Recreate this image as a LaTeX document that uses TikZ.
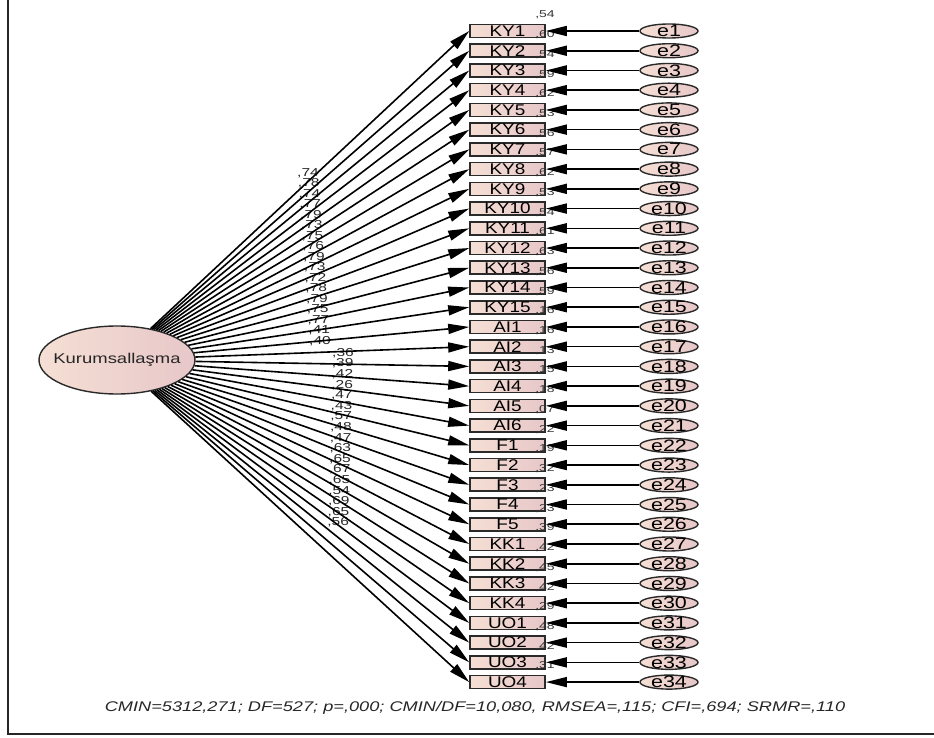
\documentclass[tikz,border=0pt]{standalone}
\usepackage{fontspec}
\setmainfont{Liberation Sans}
\newfontfamily\widefont[FakeStretch=1.3]{Liberation Sans}
\newfontfamily\boxfont[FakeStretch=1.22]{Liberation Sans}
\newfontfamily\loadfont[FakeStretch=1.35]{Liberation Sans}
\newfontfamily\widerfont[FakeStretch=1.4]{Liberation Sans}
\usetikzlibrary{arrows.meta,shapes.geometric}

\definecolor{fillL}{HTML}{F5DFD4}
\definecolor{fillR}{HTML}{E7C7C9}
\definecolor{edgegray}{HTML}{2A2A2A}

\tikzset{
  obs/.style={draw=edgegray, line width=1.6pt, left color=fillL, right color=fillR,
    minimum width=75pt, minimum height=13pt, inner sep=0pt, text=black,
    font=\boxfont\fontsize{15.5}{16}\selectfont},
  latent/.style={ellipse, draw=edgegray, line width=1.4pt, left color=fillL, right color=fillR,
    minimum width=156pt, minimum height=68pt, inner sep=0pt},
  errvar/.style={ellipse, draw=edgegray, line width=1.4pt, left color=fillL, right color=fillR,
    minimum width=58pt, minimum height=14pt, inner sep=0pt},
  errtext/.style={font=\widefont\fontsize{16.5}{16}\selectfont, inner sep=0pt, text=black},
  lattext/.style={font=\widefont\fontsize{14.2}{16}\selectfont, inner sep=0pt, text=black!85},
  loadlbl/.style={font=\loadfont\fontsize{11.5}{12}\selectfont, inner sep=0pt, text=black!85},
  rsqlbl/.style={font=\widerfont\fontsize{10}{10}\selectfont, inner sep=0pt, text=black!80},
  path/.style={line width=1.6pt, draw=black, -{Triangle[length=21pt,width=10pt]}},
}

\begin{document}
\begin{tikzpicture}[x=1pt,y=-1pt]
\useasboundingbox (0,0) rectangle (934,738);

% frame
\draw[line width=1.6pt, draw=black!85] (8,0) -- (8,734) -- (934,734);

% latent factor
\node[latent, label={[lattext]center:Kurumsallaşma}] (lat) at (117,360) {};

% indicators, residuals and estimates
\foreach [count=\i from 0] \nm/\ld/\rs/\en in {
  KY1/74/54/e1, KY2/78/60/e2, KY3/74/54/e3, KY4/77/59/e4, KY5/79/62/e5,
  KY6/73/53/e6, KY7/75/56/e7, KY8/76/57/e8, KY9/79/62/e9, KY10/73/53/e10,
  KY11/72/54/e11, KY12/78/61/e12, KY13/79/63/e13, KY14/75/56/e14, KY15/77/59/e15,
  AI1/41/16/e16, AI2/40/16/e17, AI3/36/13/e18, AI4/39/15/e19, AI5/42/18/e20,
  AI6/26/07/e21, F1/47/22/e22, F2/43/19/e23, F3/57/32/e24, F4/48/23/e25,
  F5/47/23/e26, KK1/63/39/e27, KK2/65/42/e28, KK3/67/45/e29, KK4/65/42/e30,
  UO1/54/29/e31, UO2/69/48/e32, UO3/65/42/e33, UO4/56/31/e34} {
  \pgfmathsetmacro\yy{31+19.73*\i}
  \ifnum\i<17
    \pgfmathsetmacro\lx{308+0.75*\i}
    \pgfmathsetmacro\ly{173+10.5*\i}
  \else
    \pgfmathsetmacro\lx{343-0.3*(\i-17)}
    \pgfmathsetmacro\ly{353+10.6*(\i-17)}
  \fi
  \node[obs] (o\i) at (507.5,\yy) {\nm};
  \node[errvar, label={[errtext]center:\en}] (err\i) at (669,\yy) {};
  \node[rsqlbl] (rs\i) at (545,\yy-16) {,\rs};
  \node[loadlbl] (ld\i) at (\lx,\ly) {,\ld};
}

% paths
\foreach \i in {0,...,33} {
  \draw[path] (lat) -- (o\i.west);
  \draw[path] (err\i) -- (o\i.east);
}

% fit indices
\node[font=\widefont\itshape\fontsize{14}{16}\selectfont, inner sep=0pt, text=black!85] (fitidx) at (475,708)
  {CMIN=5312,271; DF=527; p=,000; CMIN/DF=10,080, RMSEA=,115; CFI=,694; SRMR=,110};
\end{tikzpicture}
\end{document}
